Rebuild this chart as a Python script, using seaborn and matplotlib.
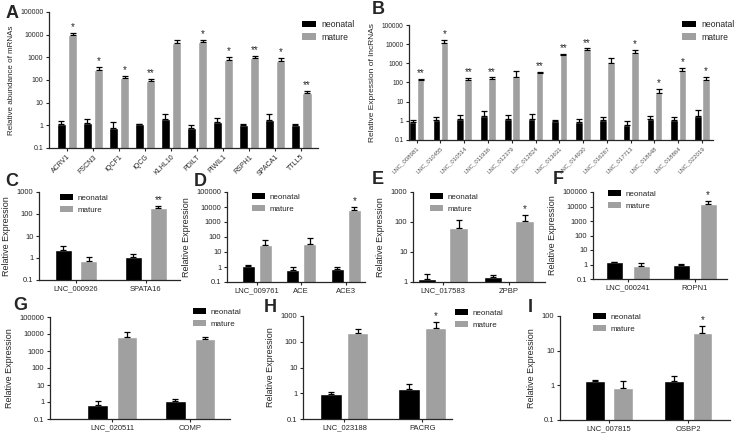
import numpy as np
import pandas as pd
import matplotlib
matplotlib.use('Agg')
import matplotlib.pyplot as plt
import seaborn as sns
from matplotlib.patches import Patch
from matplotlib.ticker import NullLocator

sns.set_style('ticks')
plt.rcParams['font.family'] = ['Liberation Sans', 'DejaVu Sans']

# ---- data (means and upper SEM) ----
genes_a = ['ACRV1', 'FSCN3', 'IQCF1', 'IQCG', 'KLHL10', 'PDILT', 'PIWIL1', 'RSPH1', 'SPACA1', 'TTLL5']
neo_a = [1.1, 1.3, 0.8, 1.1, 1.9, 0.8, 1.4, 1.0, 1.8, 1.05]
neo_a_err = [0.5, 0.7, 0.55, 0.1, 1.4, 0.2, 0.8, 0.2, 1.4, 0.1]
mat_a = [9500, 280, 120, 90, 4200, 4600, 750, 950, 700, 26]
mat_a_err = [2500, 100, 30, 25, 1800, 1200, 250, 200, 220, 6]
stars_a = ['*', '*', '*', '**', '', '*', '*', '**', '*', '**']

genes_b = ['LNC_008981', 'LNC_010455', 'LNC_010514', 'LNC_011936', 'LNC_012379', 'LNC_012824',
           'LNC_013631', 'LNC_014930', 'LNC_016267', 'LNC_017713', 'LNC_018648', 'LNC_018864', 'LNC_022019']
neo_b = [0.9, 1.15, 1.3, 1.8, 1.2, 1.3, 0.95, 0.9, 1.05, 0.62, 1.3, 1.1, 1.7]
neo_b_err = [0.25, 0.35, 0.7, 1.5, 0.8, 0.9, 0.1, 0.4, 0.45, 0.33, 0.5, 0.4, 1.8]
mat_b = [130, 11500, 130, 160, 200, 310, 2600, 5000, 1050, 3600, 30, 400, 140]
mat_b_err = [20, 5500, 40, 25, 180, 30, 500, 1000, 850, 1600, 15, 180, 50]
stars_b = ['**', '*', '**', '**', '', '**', '**', '**', '', '*', '*', '*', '*']

genes_c = ['LNC_000926', 'SPATA16']
neo_c, neo_c_err = [2.4, 1.15], [1.1, 0.45]
mat_c, mat_c_err = [0.75, 190], [0.35, 40]
stars_c = ['', '**']

genes_d = ['LNC_009761', 'ACE', 'ACE3']
neo_d, neo_d_err = [1.1, 0.65, 0.72], [0.3, 0.4, 0.23]
mat_d, mat_d_err = [28, 35, 6200], [32, 45, 3800]
stars_d = ['', '', '*']

genes_e = ['LNC_017583', 'ZPBP']
neo_e, neo_e_err = [1.3, 1.45], [0.6, 0.3]
mat_e, mat_e_err = [62, 105], [58, 60]
stars_e = ['', '*']

genes_f = ['LNC_000241', 'ROPN1']
neo_f, neo_f_err = [1.4, 0.95], [0.2, 0.1]
mat_f, mat_f_err = [0.85, 15000], [0.35, 9000]
stars_f = ['', '*']

genes_g = ['LNC_020511', 'COMP']
neo_g, neo_g_err = [0.7, 1.15], [0.4, 0.45]
mat_g, mat_g_err = [7000, 5000], [7000, 2000]
stars_g = ['', '']

genes_h = ['LNC_023188', 'PACRG']
neo_h, neo_h_err = [0.95, 1.5], [0.2, 0.8]
mat_h, mat_h_err = [220, 340], [100, 240]
stars_h = ['', '*']

genes_i = ['LNC_007815', 'OSBP2']
neo_i, neo_i_err = [1.35, 1.3], [0.1, 0.55]
mat_i, mat_i_err = [0.85, 33], [0.45, 17]
stars_i = ['', '*']

groups = ['neonatal', 'mature']
colors = ['#000000', '#a0a0a0']

W, H = 738, 443
fig = plt.figure(figsize=(W / 100, H / 100), dpi=100)


def panel(box, genes, neo, neo_err, mat, mat_err, stars, ylim, xlim, width, gap,
          ylabel, leg_xy, letter, letter_xy, tick_fs=5.5, label_fs=6.5, rot=0, leg_fs=5.8):
    left, top, right, bottom = box
    ax = fig.add_axes([left / W, 1 - bottom / H, (right - left) / W, (bottom - top) / H])
    df = pd.DataFrame({'gene': genes * 2,
                       'group': [groups[0]] * len(genes) + [groups[1]] * len(genes),
                       'value': neo + mat})
    sns.barplot(data=df, x='gene', y='value', hue='group', palette=colors, saturation=1,
                width=width, gap=gap, errorbar=None, legend=False, ax=ax)
    ax.set_yscale('log')

    # upper error bars + significance stars
    for cont, vals, errs in zip(ax.containers, [neo, mat], [neo_err, mat_err]):
        xs = [b.get_x() + b.get_width() / 2 for b in cont]
        ax.errorbar(xs, vals, yerr=[np.zeros(len(vals)), errs], fmt='none',
                    ecolor='black', elinewidth=0.9, capsize=2.2, capthick=0.9)
    xs = [b.get_x() + b.get_width() / 2 for b in ax.containers[1]]
    for x, v, e, s in zip(xs, mat, mat_err, stars):
        if s:
            ax.text(x, (v + e) * 1.1, s, ha='center', va='bottom', fontsize=7)

    ticks = 10.0 ** np.arange(np.log10(ylim[0]), np.log10(ylim[1]) + 0.5)
    ax.set_yticks(ticks)
    ax.set_yticklabels(['0.1' if t < 1 else str(int(round(t))) for t in ticks])
    ax.yaxis.set_minor_locator(NullLocator())
    ax.set_ylim(ylim)
    ax.set_xlim(xlim)
    ax.set_xlabel('')
    ax.set_ylabel(ylabel, fontsize=label_fs, labelpad=4)
    sns.despine(ax=ax)
    for sp in ['left', 'bottom']:
        ax.spines[sp].set_linewidth(0.9)
    ax.tick_params(axis='both', length=2.5, width=0.8, pad=1.5, labelsize=tick_fs)
    if rot:
        for lab in ax.get_xticklabels():
            lab.set_rotation(rot)
            lab.set_ha('right')
            lab.set_rotation_mode('anchor')

    handles = [Patch(facecolor=c, edgecolor='none') for c in colors]
    ax.legend(handles, groups, loc='upper left', bbox_to_anchor=(leg_xy[0] / W, 1 - leg_xy[1] / H),
              bbox_transform=fig.transFigure, frameon=False, fontsize=leg_fs, borderpad=0,
              borderaxespad=0, handlelength=1.6, handleheight=0.85, labelspacing=0.45,
              handletextpad=0.6)
    fig.text(letter_xy[0] / W, 1 - letter_xy[1] / H, letter, ha='center', va='center',
             fontsize=13, fontweight='bold')
    return ax


panel((49, 12, 318, 148), genes_a, neo_a, neo_a_err, mat_a, mat_a_err, stars_a,
      (0.1, 1e5), (-0.69, 9.65), 0.88, 0.18, 'Relative abundance of mRNAs',
      (302, 20), 'A', (12, 13), tick_fs=5, label_fs=5.8, rot=45, leg_fs=6.2)
axb = panel((409, 25, 713, 140), genes_b, neo_b, neo_b_err, mat_b, mat_b_err, stars_b,
            (0.1, 1e5), (-0.32, 12.46), 0.68, 0.06, 'Relative Expression of lncRNAs',
            (682, 20), 'B', (378, 10), tick_fs=4.8, label_fs=6, rot=45, leg_fs=6.2)
for lab in axb.get_xticklabels():
    lab.set_color('#555555')
    lab.set_fontsize(4.3)
panel((39, 192, 180, 280), genes_c, neo_c, neo_c_err, mat_c, mat_c_err, stars_c,
      (0.1, 1000), (-0.53, 1.49), 0.72, 0.33, 'Relative Expression', (60, 194), 'C', (12, 182))
panel((227, 192, 365, 282), genes_d, neo_d, neo_d_err, mat_d, mat_d_err, stars_d,
      (0.1, 1e5), (-0.67, 2.43), 0.76, 0.24, 'Relative Expression', (252, 193), 'D', (200, 182))
panel((413, 192, 545, 282), genes_e, neo_e, neo_e_err, mat_e, mat_e_err, stars_e,
      (1, 1000), (-0.45, 1.55), 0.96, 0.42, 'Relative Expression', (430, 193), 'E', (378, 180))
panel((593, 192, 727, 279), genes_f, neo_f, neo_f_err, mat_f, mat_f_err, stars_f,
      (0.1, 1e5), (-0.52, 1.48), 0.8, 0.35, 'Relative Expression', (608, 190), 'F', (558, 180))
panel((50, 317, 230, 419), genes_g, neo_g, neo_g_err, mat_g, mat_g_err, stars_g,
      (0.1, 1e5), (-0.8, 1.51), 0.76, 0.32, 'Relative Expression', (193, 308), 'G', (20, 305))
panel((303, 316, 452, 419), genes_h, neo_h, neo_h_err, mat_h, mat_h_err, stars_h,
      (0.1, 1000), (-0.53, 1.38), 0.68, 0.18, 'Relative Expression', (455, 309), 'H', (270, 307))
panel((560, 316, 730, 420), genes_i, neo_i, neo_i_err, mat_i, mat_i_err, stars_i,
      (0.1, 100), (-0.62, 1.53), 0.72, 0.31, 'Relative Expression', (593, 313), 'I', (530, 307))

fig.savefig('out.png', dpi=100)
